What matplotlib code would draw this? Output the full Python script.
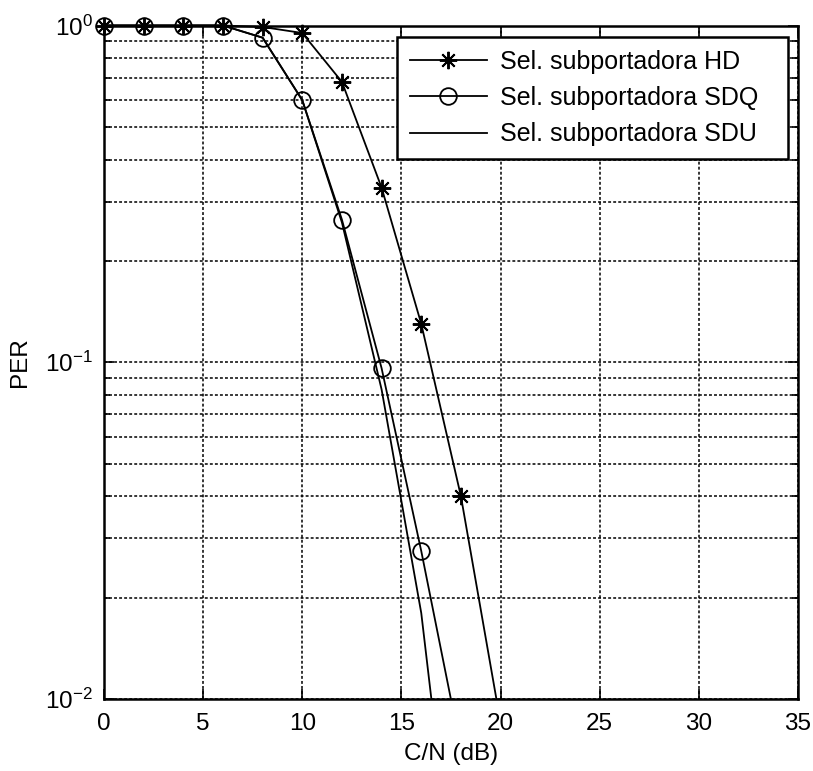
import matplotlib
matplotlib.use("Agg")
import matplotlib.pyplot as plt
from matplotlib.transforms import Bbox, TransformedBbox
import numpy as np

plt.rcParams['font.family'] = ['Liberation Sans', 'DejaVu Sans']
plt.rcParams['mathtext.default'] = 'regular'

# Data
snr_hd = [0, 2, 4, 6, 8, 10, 12, 14, 16, 18, 20]
per_hd = [1.0, 1.0, 1.0, 1.0, 0.99, 0.95, 0.68, 0.33, 0.13, 0.040, 0.0085]

snr_sdq = [0, 2, 4, 6, 8, 10, 12, 14, 16, 18]
per_sdq = [1.0, 1.0, 1.0, 1.0, 0.92, 0.60, 0.265, 0.096, 0.0275, 0.0071]

snr_sdu = [0, 2, 4, 6, 8, 10, 12, 14, 16, 18]
per_sdu = [1.0, 1.0, 1.0, 1.0, 0.92, 0.60, 0.26, 0.083, 0.018, 0.0018]

labels = ['Sel. subportadora HD', 'Sel. subportadora SDQ', 'Sel. subportadora SDU']
xticks = [0, 5, 10, 15, 20, 25, 30, 35]

fig = plt.figure(figsize=(8.13, 7.71), dpi=100)
ax = fig.add_axes([104/813, 1-699/771, 694/813, (699-25.5)/771])

l1, = ax.semilogy(snr_hd, per_hd, color='k', lw=1.3, marker=(8, 2, 0), ms=12.5, mew=1.4, label=labels[0])
l2, = ax.semilogy(snr_sdq, per_sdq, color='k', lw=1.3, marker='o', ms=12, mfc='none', mew=1.3, label=labels[1])
l3, = ax.semilogy(snr_sdu, per_sdu, color='k', lw=1.3, label=labels[2])

# let markers at the top/left edge show fully, still clip below the bottom axis
clipbox = TransformedBbox(Bbox([[-0.04, 0.0], [1.0, 1.04]]), ax.transAxes)
for ln in (l1, l2, l3):
    ln.set_clip_box(clipbox)

ax.set_xlim(0, 35)
ax.set_ylim(1e-2, 1e0)
ax.set_xticks(xticks)
ax.set_xticklabels([str(t) for t in xticks])

grid_ls = (0, (1.9, 1.4))
ax.grid(True, which='major', linestyle=grid_ls, color='k', lw=1.1)
ax.grid(True, which='minor', axis='y', linestyle=grid_ls, color='k', lw=1.1)
ax.set_axisbelow(True)

ax.tick_params(which='both', direction='in', top=True, right=True, labelsize=17.5, width=1.2)
ax.tick_params(which='major', length=7)
ax.tick_params(axis='x', which='major', pad=10)
ax.tick_params(axis='y', which='major', pad=8)
ax.tick_params(which='minor', length=4)
for s in ax.spines.values():
    s.set_linewidth(1.8)

ax.set_xlabel('C/N (dB)', fontsize=17.5, labelpad=6)
ax.set_ylabel('PER', fontsize=17.5, labelpad=10)

leg_left = (397 - 104) / 694
leg_right = (788 - 104) / 694
leg_top = (699 - 37) / 673.5
leg = ax.legend(loc='upper left', bbox_to_anchor=(leg_left, 0.0, leg_right - leg_left, leg_top),
                mode='expand', borderaxespad=0,
                fontsize=18, fancybox=False, edgecolor='k', framealpha=1,
                handlelength=3.1, handletextpad=0.5, borderpad=0.5, labelspacing=0.5)
leg.get_frame().set_linewidth(1.8)

fig.savefig('out.png', dpi=100)
